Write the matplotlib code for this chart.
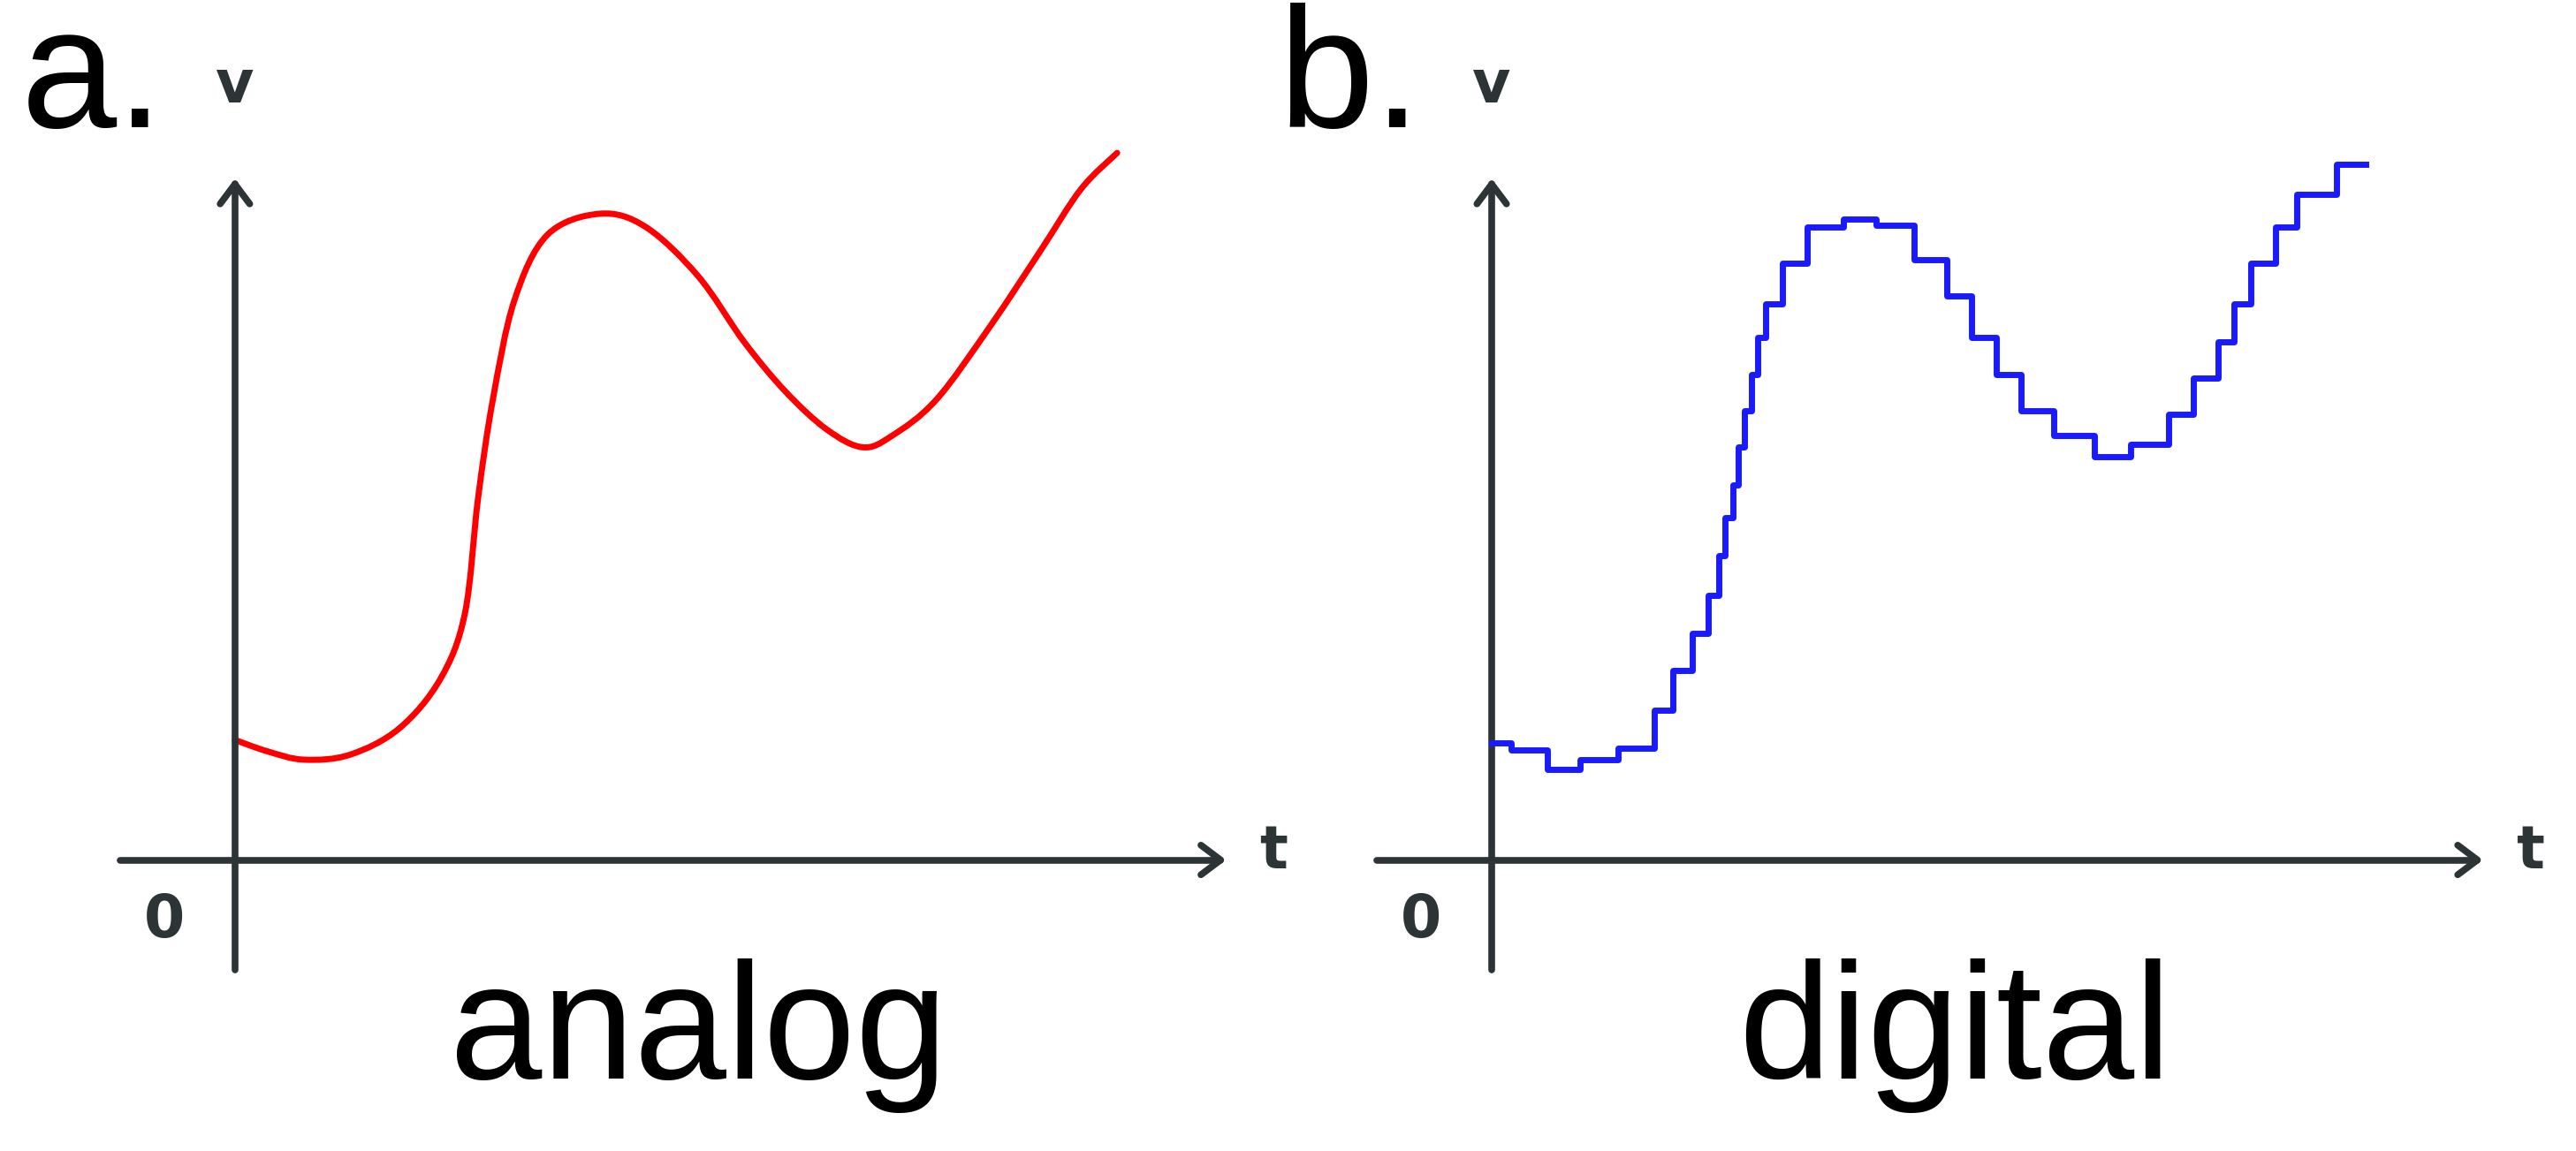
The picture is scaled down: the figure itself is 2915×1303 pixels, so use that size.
import matplotlib
matplotlib.use("Agg")
import matplotlib.pyplot as plt
from matplotlib.path import Path
from matplotlib.patches import PathPatch
import numpy as np

# analog curve (t, v) in panel units
analog_t = [0, 20, 42, 70, 100, 125, 140, 148, 157, 170, 190, 222, 250, 282, 310, 335, 360, 382, 400, 427, 460, 490, 515, 537]
analog_v = [73, 66, 61, 64, 80, 110, 150, 220, 280, 340, 380, 393, 385, 355, 315, 285, 262, 251, 258, 280, 325, 370, 408, 430]

# digital steps (t start, v)
digital_t = [0, 12, 34, 54, 77, 99, 110, 122, 132, 138, 142, 147, 150, 154, 158, 162, 167, 177, 192, 214, 234, 257, 277, 292, 307, 322, 342, 367, 389, 412, 427, 442, 452, 462, 477, 490, 514, 532]
digital_v = [71, 67, 55, 61, 68, 91, 115, 138, 161, 185, 208, 228, 251, 273, 295, 318, 338, 363, 385, 390, 386, 365, 343, 318, 295, 273, 258, 245, 253, 271, 293, 315, 338, 363, 385, 405, 423, 423]

fig = plt.figure(figsize=(29.15, 13.03), dpi=100)
ax = fig.add_axes([0, 0, 1, 1])
ax.set_xlim(0, 1568)
ax.set_ylim(700, 0)
ax.axis("off")
axc = "#2d3436"
lw_ax = 5.5
big = ["Liberation Sans", "DejaVu Sans"]

def panel(ox, oy, label, name):
    ax.plot([ox, ox], [590, 112], color=axc, lw=lw_ax, solid_capstyle="round")
    ax.plot([ox - 9, ox, ox + 9], [124, 112, 124], color=axc, lw=lw_ax, solid_capstyle="round", solid_joinstyle="round")
    ax.plot([ox - 70, ox + 600], [oy, oy], color=axc, lw=lw_ax, solid_capstyle="round")
    ax.plot([ox + 588, ox + 600, ox + 588], [oy - 9, oy, oy + 9], color=axc, lw=lw_ax, solid_capstyle="round", solid_joinstyle="round")
    ax.text(ox - 43, 560, "0", fontsize=48, fontweight="bold", color=axc, ha="center", va="center")
    ax.text(ox, 52, "v", fontsize=48, fontweight="bold", color=axc, ha="center", va="center")
    ax.text(ox + 632, oy - 5, "t", fontsize=48, fontweight="bold", color=axc, ha="center", va="center")
    ax.text(ox - 130, 50, label, fontsize=140, color="black", ha="left", va="center", family=big)
    ax.text(ox + 282, 630, name, fontsize=135, color="black", ha="center", va="center", family=big)

panel(143, 523, "a.", "analog")
panel(908, 523, "b.", "digital")

# smooth rendering of the analog points (Catmull-Rom through the read points)
xs = 143 + np.array(analog_t, float)
ys = 523 - np.array(analog_v, float)
P = np.column_stack([xs, ys])
verts = [P[0]]
codes = [Path.MOVETO]
for i in range(len(P) - 1):
    p0 = P[i - 1] if i > 0 else P[i]
    p3 = P[i + 2] if i + 2 < len(P) else P[i + 1]
    c1 = P[i] + (P[i + 1] - p0) / 6
    c2 = P[i + 1] - (p3 - P[i]) / 6
    verts += [c1, c2, P[i + 1]]
    codes += [Path.CURVE4] * 3
ax.add_patch(PathPatch(Path(verts, codes), fill=False, edgecolor="#ff0000", lw=5, capstyle="round"))

ax.step(908 + np.array(digital_t), 523 - np.array(digital_v), where="post", color="#1a1aff", lw=5)

fig.savefig("out.png", dpi=100)
